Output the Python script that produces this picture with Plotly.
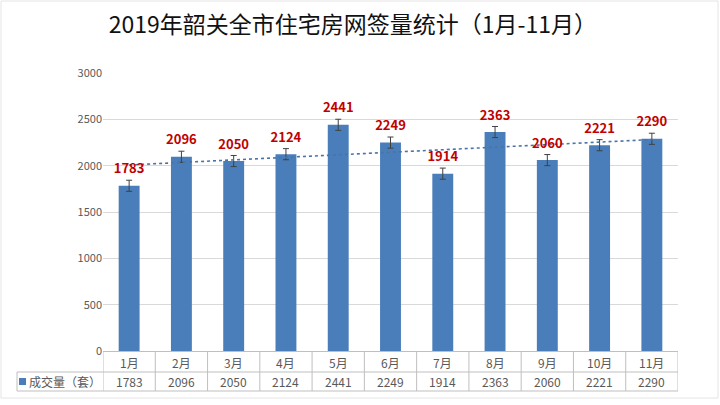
"""2019 Shaoguan residential online-signing volume, Jan-Nov."""

import numpy as np
import plotly.graph_objects as go

# ── Data ──
months = ['1月', '2月', '3月', '4月', '5月', '6月', '7月', '8月', '9月', '10月', '11月']
volume = [1783, 2096, 2050, 2124, 2441, 2249, 1914, 2363, 2060, 2221, 2290]
err = [60] * len(volume)
y_ticks = [0, 500, 1000, 1500, 2000, 2500, 3000]
series_name = '成交量（套）'
title_text = '2019年韶关全市住宅房网签量统计（1月-11月）'

# ── Style ──
BAR = '#4A7EBB'
RED = '#C00000'
TEXT = '#595959'
GRID = '#D9D9D9'
LINE = '#BFBFBF'
FONT = 'Noto Sans CJK SC, sans-serif'

x = np.arange(1, len(months) + 1)
slope, icpt = np.polyfit(x, volume, 1)
trend = slope * x + icpt

fig = go.Figure()

fig.add_trace(go.Bar(
    x=x, y=volume, width=0.4,
    marker_color=BAR, marker_line_width=0,
    error_y=dict(type='data', array=err, color='#404040', thickness=1, width=3),
    hoverinfo='skip',
))

fig.add_trace(go.Scatter(
    x=x, y=trend, mode='lines',
    line=dict(color='#4A74A8', width=1.6, dash='dot'),
    hoverinfo='skip',
))

# labels sit a little above the error-bar caps
fig.add_trace(go.Scatter(
    x=x, y=[v + e + 40 for v, e in zip(volume, err)], mode='text',
    text=[f'<b>{v}</b>' for v in volume], textposition='top center',
    textfont=dict(family=FONT, size=13, color=RED),
    hoverinfo='skip',
))

# ── Data table under the plot ──
PLOT_L, PLOT_B, PLOT_W, PLOT_H = 103, 351, 575, 278


def px_x(px):
    """Absolute pixel x -> paper x."""
    return (px - PLOT_L) / PLOT_W


def px_y(px):
    """Absolute pixel y -> paper y."""
    return (PLOT_B - px) / PLOT_H


shapes = []
n = len(months)
for xi in np.arange(0.5, n + 1):
    shapes.append(dict(type='line', xref='x', yref='paper', x0=xi, x1=xi,
                       y0=0, y1=px_y(391), line=dict(color=LINE, width=1)))
shapes.append(dict(type='line', xref='paper', yref='paper', x0=px_x(17), x1=px_x(17),
                   y0=px_y(372), y1=px_y(391), line=dict(color=LINE, width=1)))
for yy in (372, 391):
    shapes.append(dict(type='line', xref='paper', yref='paper', x0=px_x(17), x1=1,
                       y0=px_y(yy), y1=px_y(yy), line=dict(color=LINE, width=1)))
# legend key square
shapes.append(dict(type='rect', xref='paper', yref='paper',
                   x0=px_x(19), x1=px_x(26), y0=px_y(378), y1=px_y(385),
                   fillcolor=BAR, line_width=0))
# faint frame round the whole picture
shapes.append(dict(type='rect', xref='paper', yref='paper',
                   x0=px_x(1), x1=px_x(718), y0=px_y(1), y1=px_y(398),
                   line=dict(color='#E4E4E4', width=1)))

annotations = []
for xi, m, v in zip(x, months, volume):
    annotations.append(dict(x=xi, y=px_y(362), xref='x', yref='paper', yanchor='middle',
                            text=m, showarrow=False,
                            font=dict(family=FONT, size=12, color=TEXT)))
    annotations.append(dict(x=xi, y=px_y(381.5), xref='x', yref='paper', yanchor='middle',
                            text=str(v), showarrow=False,
                            font=dict(family=FONT, size=12, color=TEXT)))
annotations.append(dict(x=px_x(27), y=px_y(381.5), xref='paper', yref='paper',
                        xanchor='left', yanchor='middle',
                        text=series_name, showarrow=False,
                        font=dict(family=FONT, size=12, color=TEXT)))

fig.update_layout(
    width=720, height=405,
    paper_bgcolor='white', plot_bgcolor='white',
    showlegend=False,
    title=dict(text=title_text, x=0.49, xanchor='center', y=1 - 25 / 405, yanchor='middle',
               font=dict(family=FONT, size=23, color='#111111')),
    margin=dict(l=PLOT_L, r=720 - PLOT_L - PLOT_W, t=PLOT_B - PLOT_H, b=405 - PLOT_B),
    xaxis=dict(range=[0.5, n + 0.5], showticklabels=False, showgrid=False,
               showline=True, linecolor=LINE, zeroline=False, fixedrange=True),
    yaxis=dict(range=[0, 3000], tickvals=y_ticks, gridcolor=GRID, zeroline=False,
               tickfont=dict(family=FONT, size=11, color=TEXT), ticks='',
               ticklen=0, fixedrange=True),
    shapes=shapes,
    annotations=annotations,
)

fig.write_html('out.html', config={'displayModeBar': False},
               post_script="document.body.style.margin='0';")
